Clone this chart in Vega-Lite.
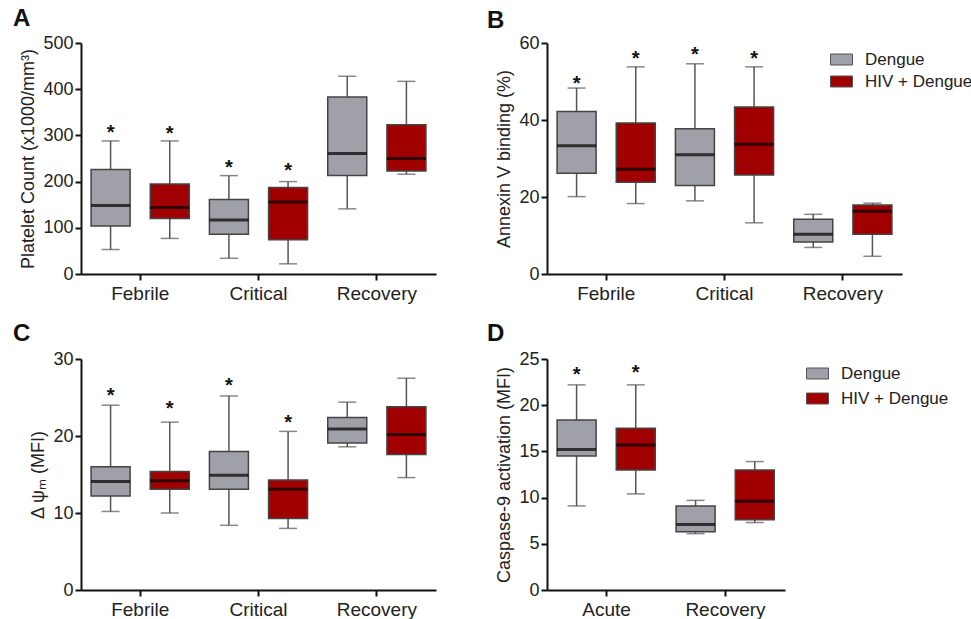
{
  "$schema": "https://vega.github.io/schema/vega-lite/v6.json",
  "background": "white",
  "padding": {"left": 13, "top": 7, "right": 5, "bottom": 5},
  "data": {"values": [
    {"panel": "A", "cat": "Febrile", "grp": "Dengue", "min": 53, "q1": 104, "med": 148, "q3": 226, "max": 288, "star": 315},
    {"panel": "A", "cat": "Febrile", "grp": "HIV + Dengue", "min": 77, "q1": 120, "med": 144, "q3": 195, "max": 288, "star": 313},
    {"panel": "A", "cat": "Critical", "grp": "Dengue", "min": 34, "q1": 86, "med": 117, "q3": 161, "max": 213, "star": 241},
    {"panel": "A", "cat": "Critical", "grp": "HIV + Dengue", "min": 22, "q1": 74, "med": 156, "q3": 187, "max": 200, "star": 233},
    {"panel": "A", "cat": "Recovery", "grp": "Dengue", "min": 141, "q1": 213, "med": 261, "q3": 383, "max": 428, "star": null},
    {"panel": "A", "cat": "Recovery", "grp": "HIV + Dengue", "min": 216, "q1": 223, "med": 250, "q3": 323, "max": 417, "star": null},
    {"panel": "B", "cat": "Febrile", "grp": "Dengue", "min": 20.1, "q1": 26.2, "med": 33.3, "q3": 42.2, "max": 48.3, "star": 50.7},
    {"panel": "B", "cat": "Febrile", "grp": "HIV + Dengue", "min": 18.3, "q1": 23.8, "med": 27.2, "q3": 39.2, "max": 53.8, "star": 57.2},
    {"panel": "B", "cat": "Critical", "grp": "Dengue", "min": 19.0, "q1": 23.0, "med": 31.0, "q3": 37.7, "max": 54.6, "star": 58.1},
    {"panel": "B", "cat": "Critical", "grp": "HIV + Dengue", "min": 13.3, "q1": 25.7, "med": 33.7, "q3": 43.4, "max": 53.8, "star": 57.2},
    {"panel": "B", "cat": "Recovery", "grp": "Dengue", "min": 6.9, "q1": 8.3, "med": 10.3, "q3": 14.2, "max": 15.5, "star": null},
    {"panel": "B", "cat": "Recovery", "grp": "HIV + Dengue", "min": 4.6, "q1": 10.3, "med": 16.3, "q3": 17.9, "max": 18.4, "star": null},
    {"panel": "C", "cat": "Febrile", "grp": "Dengue", "min": 10.2, "q1": 12.2, "med": 14.1, "q3": 16.0, "max": 24.0, "star": 25.8},
    {"panel": "C", "cat": "Febrile", "grp": "HIV + Dengue", "min": 10.0, "q1": 13.1, "med": 14.2, "q3": 15.4, "max": 21.8, "star": 24.1},
    {"panel": "C", "cat": "Critical", "grp": "Dengue", "min": 8.4, "q1": 13.1, "med": 14.9, "q3": 18.0, "max": 25.2, "star": 27.2},
    {"panel": "C", "cat": "Critical", "grp": "HIV + Dengue", "min": 8.0, "q1": 9.3, "med": 13.1, "q3": 14.3, "max": 20.6, "star": 22.3},
    {"panel": "C", "cat": "Recovery", "grp": "Dengue", "min": 18.6, "q1": 19.1, "med": 20.9, "q3": 22.4, "max": 24.4, "star": null},
    {"panel": "C", "cat": "Recovery", "grp": "HIV + Dengue", "min": 14.6, "q1": 17.6, "med": 20.2, "q3": 23.8, "max": 27.5, "star": null},
    {"panel": "D", "cat": "Acute", "grp": "Dengue", "min": 9.1, "q1": 14.5, "med": 15.2, "q3": 18.4, "max": 22.2, "star": 23.8},
    {"panel": "D", "cat": "Acute", "grp": "HIV + Dengue", "min": 10.4, "q1": 13.0, "med": 15.7, "q3": 17.5, "max": 22.2, "star": 24.0},
    {"panel": "D", "cat": "Recovery", "grp": "Dengue", "min": 6.1, "q1": 6.3, "med": 7.1, "q3": 9.1, "max": 9.7, "star": null},
    {"panel": "D", "cat": "Recovery", "grp": "HIV + Dengue", "min": 7.3, "q1": 7.6, "med": 9.6, "q3": 13.0, "max": 13.9, "star": null}
  ]},
  "columns": 2,
  "bounds": "flush",
  "spacing": {"row": 85, "column": 111},
  "resolve": {"scale": {"color": "independent"}, "legend": {"color": "independent"}},
  "concat": [
    {
      "width": 355, "height": 231,
      "title": {"text": "A", "dx": -68, "offset": 3},
      "transform": [{"filter": "datum.panel === 'A'"}],
      "encoding": {
        "x": {"field": "cat", "type": "nominal", "sort": ["Febrile", "Critical", "Recovery"], "scale": {"paddingInner": 0, "paddingOuter": 0}, "axis": {"title": null}},
        "xOffset": {"field": "grp", "type": "nominal", "sort": ["Dengue", "HIV + Dengue"], "scale": {"paddingInner": 0, "paddingOuter": 0}}
      },
      "layer": [
        {"mark": {"type": "rule", "color": "#555", "strokeWidth": 1.5}, "encoding": {"y": {"field": "min", "type": "quantitative", "title": "Platelet Count (x1000/mm³)", "scale": {"domain": [0, 500], "nice": false}, "axis": {"values": [0, 100, 200, 300, 400, 500]}}, "y2": {"field": "max"}}},
        {"mark": {"type": "bar", "stroke": "#444", "strokeWidth": 1.5, "width": 39}, "encoding": {"y": {"field": "q1", "type": "quantitative", "title": "Platelet Count (x1000/mm³)"}, "y2": {"field": "q3"}, "color": {"field": "grp", "type": "nominal", "scale": {"domain": ["Dengue", "HIV + Dengue"], "range": ["#a0a0a8", "#a00000"]}, "legend": null}}},
        {"mark": {"type": "tick", "color": "#555", "size": 18, "thickness": 1.5}, "encoding": {"y": {"field": "min", "type": "quantitative", "title": "Platelet Count (x1000/mm³)"}}},
        {"mark": {"type": "tick", "color": "#555", "size": 18, "thickness": 1.5}, "encoding": {"y": {"field": "max", "type": "quantitative", "title": "Platelet Count (x1000/mm³)"}}},
        {"mark": {"type": "tick", "color": "#000", "size": 39, "thickness": 3}, "encoding": {"y": {"field": "med", "type": "quantitative", "title": "Platelet Count (x1000/mm³)"}}},
        {"mark": {"type": "text", "text": "*", "fontSize": 20, "fontWeight": "bold", "baseline": "alphabetic", "dy": 11, "color": "#111"}, "encoding": {"y": {"field": "star", "type": "quantitative", "title": "Platelet Count (x1000/mm³)"}}}
      ]
    },
    {
      "width": 355, "height": 231,
      "title": {"text": "B", "dx": -60, "offset": 1},
      "transform": [{"filter": "datum.panel === 'B'"}],
      "encoding": {
        "x": {"field": "cat", "type": "nominal", "sort": ["Febrile", "Critical", "Recovery"], "scale": {"paddingInner": 0, "paddingOuter": 0}, "axis": {"title": null}},
        "xOffset": {"field": "grp", "type": "nominal", "sort": ["Dengue", "HIV + Dengue"], "scale": {"paddingInner": 0, "paddingOuter": 0}}
      },
      "layer": [
        {"mark": {"type": "rule", "color": "#555", "strokeWidth": 1.5}, "encoding": {"y": {"field": "min", "type": "quantitative", "title": "Annexin V binding (%)", "scale": {"domain": [0, 60], "nice": false}, "axis": {"values": [0, 20, 40, 60]}}, "y2": {"field": "max"}}},
        {"mark": {"type": "bar", "stroke": "#444", "strokeWidth": 1.5, "width": 39}, "encoding": {"y": {"field": "q1", "type": "quantitative", "title": "Annexin V binding (%)"}, "y2": {"field": "q3"}, "color": {"field": "grp", "type": "nominal", "scale": {"domain": ["Dengue", "HIV + Dengue"], "range": ["#a0a0a8", "#a00000"]}, "legend": {"orient": "none", "legendX": 283, "legendY": 5, "title": null, "symbolType": "M-1,-0.5L1,-0.5L1,0.5L-1,0.5Z", "symbolSize": 484, "rowPadding": 2, "labelOffset": 12, "labelFontSize": 17, "labelColor": "#222", "symbolStrokeColor": "#555", "symbolStrokeWidth": 1}}}},
        {"mark": {"type": "tick", "color": "#555", "size": 18, "thickness": 1.5}, "encoding": {"y": {"field": "min", "type": "quantitative", "title": "Annexin V binding (%)"}}},
        {"mark": {"type": "tick", "color": "#555", "size": 18, "thickness": 1.5}, "encoding": {"y": {"field": "max", "type": "quantitative", "title": "Annexin V binding (%)"}}},
        {"mark": {"type": "tick", "color": "#000", "size": 39, "thickness": 3}, "encoding": {"y": {"field": "med", "type": "quantitative", "title": "Annexin V binding (%)"}}},
        {"mark": {"type": "text", "text": "*", "fontSize": 20, "fontWeight": "bold", "baseline": "alphabetic", "dy": 11, "color": "#111"}, "encoding": {"y": {"field": "star", "type": "quantitative", "title": "Annexin V binding (%)"}}}
      ]
    },
    {
      "width": 355, "height": 231,
      "title": {"text": "C", "dx": -68, "offset": 4},
      "transform": [{"filter": "datum.panel === 'C'"}],
      "encoding": {
        "x": {"field": "cat", "type": "nominal", "sort": ["Febrile", "Critical", "Recovery"], "scale": {"paddingInner": 0, "paddingOuter": 0}, "axis": {"title": null}},
        "xOffset": {"field": "grp", "type": "nominal", "sort": ["Dengue", "HIV + Dengue"], "scale": {"paddingInner": 0, "paddingOuter": 0}}
      },
      "layer": [
        {"mark": {"type": "rule", "color": "#555", "strokeWidth": 1.5}, "encoding": {"y": {"field": "min", "type": "quantitative", "title": "Δ ψₘ (MFI)", "scale": {"domain": [0, 30], "nice": false}, "axis": {"values": [0, 10, 20, 30]}}, "y2": {"field": "max"}}},
        {"mark": {"type": "bar", "stroke": "#444", "strokeWidth": 1.5, "width": 39}, "encoding": {"y": {"field": "q1", "type": "quantitative", "title": "Δ ψₘ (MFI)"}, "y2": {"field": "q3"}, "color": {"field": "grp", "type": "nominal", "scale": {"domain": ["Dengue", "HIV + Dengue"], "range": ["#a0a0a8", "#a00000"]}, "legend": null}}},
        {"mark": {"type": "tick", "color": "#555", "size": 18, "thickness": 1.5}, "encoding": {"y": {"field": "min", "type": "quantitative", "title": "Δ ψₘ (MFI)"}}},
        {"mark": {"type": "tick", "color": "#555", "size": 18, "thickness": 1.5}, "encoding": {"y": {"field": "max", "type": "quantitative", "title": "Δ ψₘ (MFI)"}}},
        {"mark": {"type": "tick", "color": "#000", "size": 39, "thickness": 3}, "encoding": {"y": {"field": "med", "type": "quantitative", "title": "Δ ψₘ (MFI)"}}},
        {"mark": {"type": "text", "text": "*", "fontSize": 20, "fontWeight": "bold", "baseline": "alphabetic", "dy": 11, "color": "#111"}, "encoding": {"y": {"field": "star", "type": "quantitative", "title": "Δ ψₘ (MFI)"}}}
      ]
    },
    {
      "width": 238, "height": 231,
      "title": {"text": "D", "dx": -60, "offset": 4},
      "transform": [{"filter": "datum.panel === 'D'"}],
      "encoding": {
        "x": {"field": "cat", "type": "nominal", "sort": ["Acute", "Recovery"], "scale": {"paddingInner": 0, "paddingOuter": 0}, "axis": {"title": null}},
        "xOffset": {"field": "grp", "type": "nominal", "sort": ["Dengue", "HIV + Dengue"], "scale": {"paddingInner": 0, "paddingOuter": 0}}
      },
      "layer": [
        {"mark": {"type": "rule", "color": "#555", "strokeWidth": 1.5}, "encoding": {"y": {"field": "min", "type": "quantitative", "title": "Caspase-9 activation (MFI)", "scale": {"domain": [0, 25], "nice": false}, "axis": {"values": [0, 5, 10, 15, 20, 25]}}, "y2": {"field": "max"}}},
        {"mark": {"type": "bar", "stroke": "#444", "strokeWidth": 1.5, "width": 39}, "encoding": {"y": {"field": "q1", "type": "quantitative", "title": "Caspase-9 activation (MFI)"}, "y2": {"field": "q3"}, "color": {"field": "grp", "type": "nominal", "scale": {"domain": ["Dengue", "HIV + Dengue"], "range": ["#a0a0a8", "#a00000"]}, "legend": {"orient": "none", "legendX": 259, "legendY": 3, "title": null, "symbolType": "M-1,-0.5L1,-0.5L1,0.5L-1,0.5Z", "symbolSize": 484, "rowPadding": 5, "labelOffset": 12, "labelFontSize": 17, "labelColor": "#222", "symbolStrokeColor": "#555", "symbolStrokeWidth": 1}}}},
        {"mark": {"type": "tick", "color": "#555", "size": 18, "thickness": 1.5}, "encoding": {"y": {"field": "min", "type": "quantitative", "title": "Caspase-9 activation (MFI)"}}},
        {"mark": {"type": "tick", "color": "#555", "size": 18, "thickness": 1.5}, "encoding": {"y": {"field": "max", "type": "quantitative", "title": "Caspase-9 activation (MFI)"}}},
        {"mark": {"type": "tick", "color": "#000", "size": 39, "thickness": 3}, "encoding": {"y": {"field": "med", "type": "quantitative", "title": "Caspase-9 activation (MFI)"}}},
        {"mark": {"type": "text", "text": "*", "fontSize": 20, "fontWeight": "bold", "baseline": "alphabetic", "dy": 11, "color": "#111"}, "encoding": {"y": {"field": "star", "type": "quantitative", "title": "Caspase-9 activation (MFI)"}}}
      ]
    }
  ],
  "config": {
    "view": {"stroke": null},
    "font": "Liberation Sans",
    "axis": {"domainColor": "#111", "domainWidth": 2, "tickColor": "#111", "tickWidth": 2, "tickSize": 6, "labelFont": "Liberation Sans", "labelFontSize": 18, "labelColor": "#222", "titleFont": "Liberation Sans", "titleFontSize": 18, "titleFontWeight": "normal", "titleColor": "#222", "grid": false, "labelPadding": 2, "titlePadding": 5},
    "axisX": {"labelAngle": 0, "bandPosition": 0.5, "labelFontSize": 19, "labelPadding": 4},
    "legend": {"labelFont": "Liberation Sans"},
    "title": {"anchor": "start", "fontSize": 24, "fontWeight": "bold", "frame": "group", "baseline": "alphabetic", "color": "#111", "font": "Liberation Sans"}
  }
}
